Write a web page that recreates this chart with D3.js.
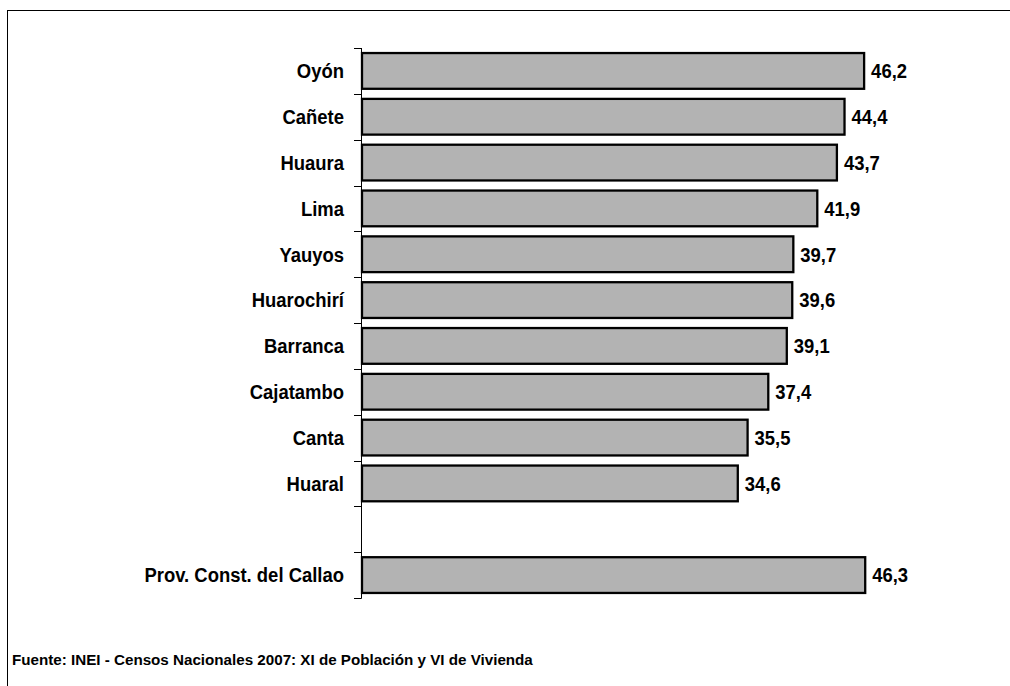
<!DOCTYPE html>
<html><head><meta charset="utf-8">
<script src="https://cdn.jsdelivr.net/npm/d3@7"></script>
<style>
html,body{margin:0;padding:0;background:#fff;}
text{font-family:"Liberation Sans",Arial,sans-serif;}
</style></head>
<body>
<svg id="c" width="1010" height="686"></svg>
<script>
const categories = ["Oyón","Cañete","Huaura","Lima","Yauyos","Huarochirí","Barranca","Cajatambo","Canta","Huaral","","Prov. Const. del Callao"];
const values = [46.2,44.4,43.7,41.9,39.7,39.6,39.1,37.4,35.5,34.6,null,46.3];
const valueLabels = ["46,2","44,4","43,7","41,9","39,7","39,6","39,1","37,4","35,5","34,6","","46,3"];
const footer = "Fuente: INEI - Censos Nacionales 2007: XI de Población y VI de Vivienda";

const svg = d3.select("#c");
svg.append("rect").attr("x",0).attr("y",0).attr("width",1010).attr("height",686).attr("fill","#fff");
svg.append("rect").attr("x",7.5).attr("y",10.5).attr("width",1020).attr("height",700)
  .attr("fill","none").attr("stroke","#000").attr("stroke-width",1);

const keys = categories.map((c,i)=>i);
const y = d3.scaleBand().domain(keys).range([48,598]).paddingInner(0.22).paddingOuter(0.11);
const x = d3.scaleLinear().domain([0,50]).range([361,905.5]);

const data = categories.map((c,i)=>({i, c, v: values[i], lab: valueLabels[i]}));
const SX = 0.9, FS = 20.5;

// axis line and boundary ticks
const g = svg.append("g");
g.append("line").attr("x1",361.5).attr("x2",361.5).attr("y1",48).attr("y2",598.5)
  .attr("stroke","#000").attr("stroke-width",1);
const step = y.step();
const bounds = d3.range(categories.length+1).map(k => y.range()[0] + k*step);
g.selectAll("line.tick").data(bounds).join("line").attr("class","tick")
  .attr("x1",354).attr("x2",361.5)
  .attr("y1",d=>Math.round(d)+0.5).attr("y2",d=>Math.round(d)+0.5)
  .attr("stroke","#000").attr("stroke-width",1);

const bars = data.filter(d=>d.v!=null);
svg.selectAll("rect.bar").data(bars).join("rect").attr("class","bar")
  .attr("x",x(0)+1).attr("y",d=>y(d.i))
  .attr("width",d=>x(d.v)-x(0)-1).attr("height",y.bandwidth())
  .attr("fill","#b3b3b3").attr("stroke","#000").attr("stroke-width",2.3);

svg.selectAll("text.cat").data(data.filter(d=>d.c!=="")).join("text").attr("class","cat")
  .attr("transform",d=>`translate(344,${y(d.i)+y.bandwidth()/2}) scale(${SX},1)`)
  .attr("dy","0.36em")
  .attr("text-anchor","end").attr("font-weight","bold").attr("font-size",FS)
  .attr("fill","#000").text(d=>d.c);

svg.selectAll("text.val").data(bars).join("text").attr("class","val")
  .attr("transform",d=>`translate(${x(d.v)+7},${y(d.i)+y.bandwidth()/2}) scale(${SX},1)`)
  .attr("dy","0.36em")
  .attr("text-anchor","start").attr("font-weight","bold").attr("font-size",FS)
  .attr("fill","#000").text(d=>d.lab);

svg.append("text").attr("transform","translate(12,665) scale(0.98,1)")
  .attr("font-size",15.5).attr("font-weight","bold").attr("fill","#000").text(footer);
</script>
</body></html>
